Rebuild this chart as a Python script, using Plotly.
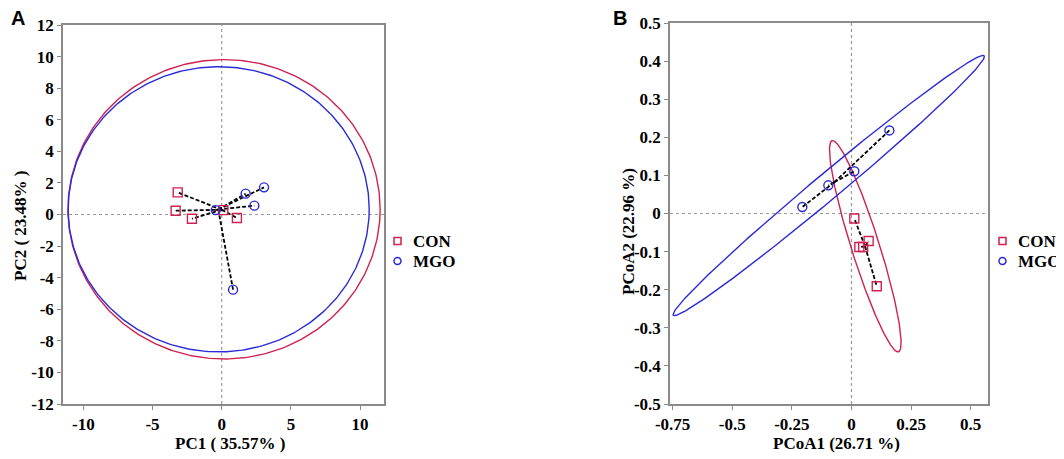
import numpy as np
import plotly.graph_objects as go

RED = "#CF2250"
BLUE = "#2A2AD8"
SERIF = "Liberation Serif, Times New Roman, serif"

# ---------------- Panel A (PCA) ----------------
a_con_x = [-3.18, -3.33, -2.15, 0.12, 1.10]
a_con_y = [1.40, 0.24, -0.27, 0.28, -0.22]
a_mgo_x = [-0.43, 1.73, 3.06, 2.36, 0.82]
a_mgo_y = [0.28, 1.32, 1.72, 0.56, -4.76]
a_con_center = [0.0, 0.30]
a_mgo_center = [-0.25, 0.32]
# ellipse: cx, cy, rx, ry
a_con_ellipse = [0.17, 0.33, 11.28, 9.48]
a_mgo_ellipse = [-0.22, 0.33, 10.88, 9.03]
a_xticks = [-10, -5, 0, 5, 10]
a_xticklabels = ["-10", "-5", "0", "5", "10"]
a_yticks = [-12, -10, -8, -6, -4, -2, 0, 2, 4, 6, 8, 10, 12]
a_yticklabels = ["-12", "-10", "-8", "-6", "-4", "-2", "0", "2", "4", "6", "8", "10", "12"]

# ---------------- Panel B (PCoA) ----------------
b_con_x = [0.012, 0.033, 0.049, 0.072, 0.106]
b_con_y = [-0.013, -0.088, -0.088, -0.072, -0.191]
b_mgo_x = [-0.206, -0.097, 0.012, 0.159]
b_mgo_y = [0.017, 0.074, 0.111, 0.218]
b_con_center = [0.057, -0.086]
b_mgo_center = [-0.072, 0.082]
# ellipse: tip1 (x, y), tip2 (x, y), minor half-vector (dx, dy)
b_con_ellipse = [(-0.076, 0.191), (0.192, -0.363), (-0.068, 0.013)]
b_mgo_ellipse = [(-0.747, -0.267), (0.557, 0.414), (-0.035, 0.026)]
b_xticks = [-0.75, -0.5, -0.25, 0, 0.25, 0.5]
b_xticklabels = ["-0.75", "-0.5", "-0.25", "0", "0.25", "0.5"]
b_yticks = [-0.5, -0.4, -0.3, -0.2, -0.1, 0, 0.1, 0.2, 0.3, 0.4, 0.5]
b_yticklabels = ["-0.5", "-0.4", "-0.3", "-0.2", "-0.1", "0", "0.1", "0.2", "0.3", "0.4", "0.5"]

groups = ["CON", "MGO"]

t = np.linspace(0, 2 * np.pi, 361)


def axis_ellipse(p):
    cx, cy, rx, ry = p
    return cx + rx * np.cos(t), cy + ry * np.sin(t)


def tip_ellipse(p):
    (x1, y1), (x2, y2), (vx, vy) = p
    cx, cy = (x1 + x2) / 2, (y1 + y2) / 2
    ux, uy = (x2 - x1) / 2, (y2 - y1) / 2
    return cx + ux * np.cos(t) + vx * np.sin(t), cy + uy * np.cos(t) + vy * np.sin(t)


def spider(xs, ys, c):
    lx, ly = [], []
    for x, y in zip(xs, ys):
        lx += [c[0], x, None]
        ly += [c[1], y, None]
    return lx, ly


def bold(labels):
    return ["<b>%s</b>" % s for s in labels]


# the page body has an 8px margin; figure is sized to fit the window
OFF = 8
W, H = 1064 - OFF, 459 - OFF


def px(x):
    return (x - OFF) / W


def py(y):
    return 1 - (y - OFF) / H


fig = go.Figure()
dash_line = dict(color="black", width=1.8, dash="4px,2px")

# Panel A
for ell, col in [(a_con_ellipse, RED), (a_mgo_ellipse, BLUE)]:
    ex, ey = axis_ellipse(ell)
    fig.add_trace(go.Scatter(x=ex, y=ey, mode="lines", line=dict(color=col, width=1.4),
                             showlegend=False, hoverinfo="skip", xaxis="x", yaxis="y"))
for xs, ys, c in [(a_con_x, a_con_y, a_con_center), (a_mgo_x, a_mgo_y, a_mgo_center)]:
    lx, ly = spider(xs, ys, c)
    fig.add_trace(go.Scatter(x=lx, y=ly, mode="lines", line=dash_line,
                             showlegend=False, hoverinfo="skip", xaxis="x", yaxis="y"))
fig.add_trace(go.Scatter(x=a_con_x, y=a_con_y, mode="markers", name=groups[0], showlegend=False,
                         marker=dict(symbol="square-open", color=RED, size=9, line=dict(width=1.4)),
                         xaxis="x", yaxis="y"))
fig.add_trace(go.Scatter(x=a_mgo_x, y=a_mgo_y, mode="markers", name=groups[1], showlegend=False,
                         marker=dict(symbol="circle-open", color=BLUE, size=9, line=dict(width=1.4)),
                         xaxis="x", yaxis="y"))

# Panel B
for ell, col in [(b_con_ellipse, RED), (b_mgo_ellipse, BLUE)]:
    ex, ey = tip_ellipse(ell)
    fig.add_trace(go.Scatter(x=ex, y=ey, mode="lines", line=dict(color=col, width=1.4),
                             showlegend=False, hoverinfo="skip", xaxis="x2", yaxis="y2"))
for xs, ys, c in [(b_con_x, b_con_y, b_con_center), (b_mgo_x, b_mgo_y, b_mgo_center)]:
    lx, ly = spider(xs, ys, c)
    fig.add_trace(go.Scatter(x=lx, y=ly, mode="lines", line=dash_line,
                             showlegend=False, hoverinfo="skip", xaxis="x2", yaxis="y2"))
fig.add_trace(go.Scatter(x=b_con_x, y=b_con_y, mode="markers", name=groups[0], showlegend=False,
                         marker=dict(symbol="square-open", color=RED, size=9, line=dict(width=1.4)),
                         xaxis="x2", yaxis="y2"))
fig.add_trace(go.Scatter(x=b_mgo_x, y=b_mgo_y, mode="markers", name=groups[1], showlegend=False,
                         marker=dict(symbol="circle-open", color=BLUE, size=9, line=dict(width=1.4)),
                         xaxis="x2", yaxis="y2"))

ax_common = dict(showgrid=False, zeroline=False, showline=True, mirror=True,
                 linecolor="#8a8a8a", linewidth=1.5, ticks="outside", ticklen=4,
                 tickcolor="#8a8a8a", tickwidth=1.3, automargin=False)
tf = dict(family=SERIF, size=17, color="black")

fig.update_layout(
    width=W, height=H, margin=dict(l=0, r=0, t=0, b=0),
    paper_bgcolor="white", plot_bgcolor="white", showlegend=False,
    font=dict(family=SERIF),
    xaxis=dict(domain=[px(63), px(384)], range=[-11.47, 11.73], tickvals=a_xticks,
               ticktext=bold(a_xticklabels), tickfont=tf, anchor="y", **ax_common),
    yaxis=dict(domain=[py(404), py(25)], range=[-12, 12], tickvals=a_yticks,
               ticktext=bold(a_yticklabels), tickfont=tf, anchor="x", **ax_common),
    xaxis2=dict(domain=[px(670), px(988)], range=[-0.761, 0.5726], tickvals=b_xticks,
                ticktext=bold(b_xticklabels), tickfont=tf, anchor="y2", **ax_common),
    yaxis2=dict(domain=[py(404), py(23)], range=[-0.5, 0.5], tickvals=b_yticks,
                ticktext=bold(b_yticklabels), tickfont=tf, anchor="x2", **ax_common),
)

dot = dict(color="#9a9a9a", width=1.2, dash="dot")
fig.add_shape(type="line", xref="x", yref="y domain", x0=0, x1=0, y0=0, y1=1, line=dot, layer="below")
fig.add_shape(type="line", xref="x domain", yref="y", x0=0, x1=1, y0=0, y1=0, line=dot, layer="below")
fig.add_shape(type="line", xref="x2", yref="y2 domain", x0=0, x1=0, y0=0, y1=1, line=dot, layer="below")
fig.add_shape(type="line", xref="x2 domain", yref="y2", x0=0, x1=1, y0=0, y1=0, line=dot, layer="below")

# manual legends (symbol + text)
leg_font = dict(family=SERIF, size=17, color="black", weight="bold")
for lx0, tx0 in [(397.5, 411), (1002.5, 1016)]:
    for i, (g, col, kind) in enumerate(zip(groups, [RED, BLUE], ["rect", "circle"])):
        yc = 241 + i * 20
        s = 3.5
        fig.add_shape(type=kind, xref="paper", yref="paper",
                      x0=px(lx0 - s), x1=px(lx0 + s), y0=py(yc + s), y1=py(yc - s),
                      line=dict(color=col, width=1.5), fillcolor="rgba(0,0,0,0)")
        fig.add_annotation(text=g, x=px(tx0), y=py(yc), xref="paper", yref="paper",
                           showarrow=False, font=leg_font, xanchor="left", yanchor="middle")

title_font = dict(family=SERIF, size=17, color="black", weight="bold")
panel_font = dict(family="Liberation Sans", size=20, color="black", weight="bold")
fig.add_annotation(text="PC1 ( 35.57% )", x=px(230), y=py(443), xref="paper", yref="paper",
                   showarrow=False, font=title_font, xanchor="center", yanchor="middle")
fig.add_annotation(text="PC2 ( 23.48% )", x=px(20), y=py(226), xref="paper", yref="paper",
                   showarrow=False, font=title_font, textangle=-90, xanchor="center", yanchor="middle")
fig.add_annotation(text="PCoA1 (26.71 %)", x=px(836), y=py(443), xref="paper", yref="paper",
                   showarrow=False, font=title_font, xanchor="center", yanchor="middle")
fig.add_annotation(text="PCoA2 (22.96 %)", x=px(628), y=py(232), xref="paper", yref="paper",
                   showarrow=False, font=title_font, textangle=-90, xanchor="center", yanchor="middle")
fig.add_annotation(text="A", x=px(18), y=py(18), xref="paper", yref="paper",
                   showarrow=False, font=panel_font, xanchor="center", yanchor="middle")
fig.add_annotation(text="B", x=px(620), y=py(18), xref="paper", yref="paper",
                   showarrow=False, font=panel_font, xanchor="center", yanchor="middle")

fig.write_html("out.html")
